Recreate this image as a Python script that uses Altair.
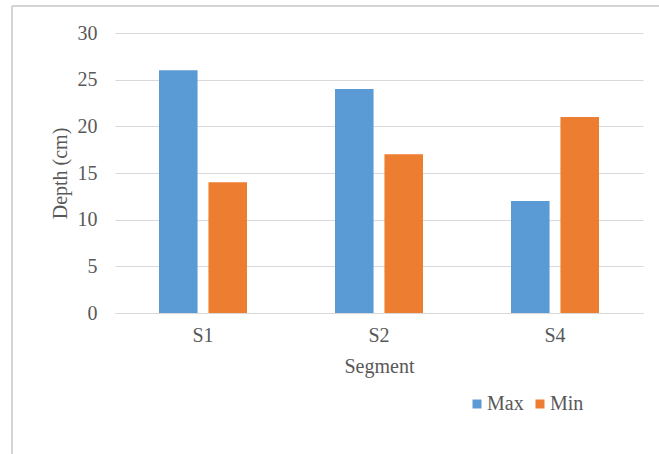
import altair as alt
import pandas as pd

segments = ["S1", "S2", "S4"]
max_vals = [26, 24, 12]
min_vals = [14, 17, 21]
series = ["Max", "Min"]
colors = ["#5B9BD5", "#ED7D31"]

rows = []
for s, mx, mn in zip(segments, max_vals, min_vals):
    rows.append({"Segment": s, "Series": "Max", "Depth": mx})
    rows.append({"Segment": s, "Series": "Min", "Depth": mn})
df = pd.DataFrame(rows)

FONT = "Liberation Serif"
GRAY = "#595959"
FS = 20

bars = alt.Chart(df).mark_bar().encode(
    x=alt.X(
        "Segment:N",
        sort=segments,
        scale=alt.Scale(paddingInner=0.5, paddingOuter=0.25),
        axis=alt.Axis(
            title="Segment", labelAngle=0, ticks=False, domainColor="#D9D9D9",
            labelPadding=12, labelFontSize=FS, labelColor=GRAY, labelFont=FONT,
            titleFontSize=FS, titleColor=GRAY, titleFontWeight="normal", titleFont=FONT,
            titleY=53, titleBaseline="middle",
        ),
    ),
    xOffset=alt.XOffset("Series:N", sort=series, scale=alt.Scale(paddingInner=0.22)),
    y=alt.Y(
        "Depth:Q",
        scale=alt.Scale(domain=[0, 30]),
        axis=alt.Axis(
            title="Depth (cm)", values=[0, 5, 10, 15, 20, 25, 30], ticks=False,
            domain=False, gridColor="#D9D9D9", labelPadding=18, labelFontSize=FS,
            labelColor=GRAY, labelFont=FONT, titleFontSize=FS, titleColor=GRAY,
            titleFont=FONT, titleFontWeight="normal", titleX=-55, titleY=140,
            titleBaseline="middle",
        ),
    ),
    color=alt.Color(
        "Series:N",
        sort=series,
        scale=alt.Scale(domain=series, range=colors),
        legend=alt.Legend(
            title=None, orient="none", direction="horizontal", legendX=352,
            legendY=361, symbolType="square", symbolSize=81, symbolStrokeWidth=0,
            labelFontSize=FS, labelFont=FONT, labelColor=GRAY, columnPadding=6,
            labelOffset=0, padding=0,
        ),
    ),
)

frame_data = alt.Data(values=[{"f": 1}])
top_line = alt.Chart(frame_data).mark_rule(color="#D4D4D4", strokeWidth=2).encode(
    x=alt.value(-103), x2=alt.value(544), y=alt.value(-27)
)
left_line = alt.Chart(frame_data).mark_rule(color="#D4D4D4", strokeWidth=2).encode(
    x=alt.value(-103), y=alt.value(-27), y2=alt.value(421)
)

chart = alt.layer(bars, top_line, left_line).properties(
    width=528, height=280,
    autosize=alt.AutoSizeParams(type="none"),
    padding={"left": 115, "top": 33, "right": 16, "bottom": 141},
).configure(font=FONT).configure_view(stroke=None)

chart.save("out.html", embed_options={"renderer": "svg", "actions": False})
